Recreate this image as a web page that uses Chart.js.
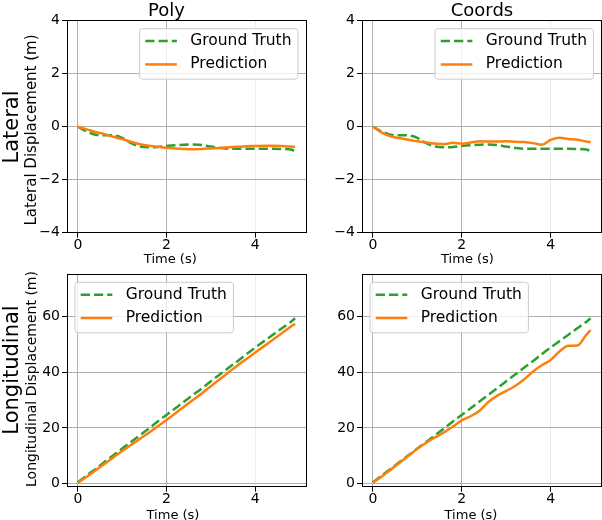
<!DOCTYPE html>
<html>
<head>
<meta charset="utf-8">
<script src="https://cdn.jsdelivr.net/npm/chart.js@4.4.1/dist/chart.umd.min.js"></script>
<style>
  body { margin: 0; background: #fff; }
  #fig { position: relative; width: 602px; height: 520px; overflow: hidden; font-family: "DejaVu Sans", sans-serif; }
  #fig canvas { position: absolute; }
  .lbl { position: absolute; line-height: 1; white-space: nowrap; color: #000; transform: translate(-50%, -50%); }
  .rot { transform: translate(-50%, -50%) rotate(-90deg); }
</style>
</head>
<body>
<div id="fig">
  <canvas id="latPolyChart" width="310" height="270" style="left:0;top:0"></canvas>
  <canvas id="latCoordsChart" width="302" height="270" style="left:300px;top:0"></canvas>
  <canvas id="lonPolyChart" width="310" height="260" style="left:0;top:260px"></canvas>
  <canvas id="lonCoordsChart" width="302" height="260" style="left:300px;top:260px"></canvas>

  <div class="lbl" style="left:166.5px;top:9.8px;font-size:18px">Poly</div>
  <div class="lbl" style="left:482px;top:9.8px;font-size:18px">Coords</div>
  <div class="lbl rot" style="left:11.2px;top:126.5px;font-size:21px">Lateral</div>
  <div class="lbl rot" style="left:11.2px;top:370px;font-size:21px">Longitudinal</div>
  <div class="lbl rot" style="left:30.8px;top:130px;font-size:15px">Lateral Displacement (m)</div>
  <div class="lbl rot" style="left:30.7px;top:379px;font-size:14px">Longitudinal Displacement (m)</div>
  <div class="lbl" style="left:170.3px;top:258.3px;font-size:13px">Time (s)</div>
  <div class="lbl" style="left:467.5px;top:258.3px;font-size:13px">Time (s)</div>
  <div class="lbl" style="left:173px;top:513.5px;font-size:13px">Time (s)</div>
  <div class="lbl" style="left:471px;top:513.5px;font-size:13px">Time (s)</div>
</div>
<script>
const time = [0, 0.2, 0.4, 0.6, 0.8, 1.0, 1.2, 1.4, 1.6, 1.8, 2.0, 2.2, 2.4, 2.6, 2.8, 3.0, 3.2, 3.4, 3.6, 3.8, 4.0, 4.2, 4.4, 4.6, 4.8, 4.9];

const latTruth  = [0, -0.18, -0.30, -0.32, -0.33, -0.42, -0.62, -0.75, -0.78, -0.77, -0.73, -0.70, -0.68, -0.67, -0.69, -0.75, -0.80, -0.83, -0.83, -0.83, -0.83, -0.83, -0.83, -0.84, -0.86, -0.92];
const latPoly   = [0, -0.10, -0.20, -0.28, -0.38, -0.47, -0.57, -0.66, -0.72, -0.76, -0.79, -0.82, -0.84, -0.85, -0.84, -0.82, -0.80, -0.78, -0.76, -0.74, -0.73, -0.72, -0.72, -0.73, -0.75, -0.76];
const latCoords = [0, -0.22, -0.36, -0.43, -0.49, -0.55, -0.60, -0.63, -0.66, -0.61, -0.64, -0.60, -0.55, -0.56, -0.56, -0.55, -0.57, -0.58, -0.62, -0.68, -0.50, -0.42, -0.46, -0.49, -0.56, -0.58];

const lonTruth  = [0.5, 2.9, 5.3, 7.8, 10.2, 12.6, 15.0, 17.4, 19.8, 22.3, 24.7, 27.1, 29.5, 31.9, 34.3, 36.8, 39.2, 41.6, 44.0, 46.5, 48.9, 51.2, 53.5, 55.8, 58.1, 59.4];
const lonPoly   = [0.3, 2.5, 4.8, 7.1, 9.4, 11.7, 13.9, 16.1, 18.3, 20.6, 22.9, 25.3, 27.7, 30.1, 32.5, 35.0, 37.5, 40.0, 42.4, 44.8, 47.1, 49.4, 51.7, 54.0, 56.4, 57.4];
const lonCoords = [0.3, 2.6, 5.0, 7.5, 10.0, 12.5, 14.7, 16.6, 18.4, 20.5, 22.7, 24.2, 26.2, 29.3, 31.6, 33.3, 35.1, 37.4, 40.2, 42.5, 44.4, 47.5, 49.5, 49.6, 53.4, 55.2];

const timeTicks = [0, 2, 4];
const latTicks = [-4, -2, 0, 2, 4];
const lonTicks = [0, 20, 40, 60];

Chart.defaults.font.family = '"DejaVu Sans", sans-serif';
Chart.defaults.font.size = 14;
Chart.defaults.color = '#000';

const align = p => Math.round(p - 0.5) + 0.5;

// black box around the axes, like matplotlib spines
const framePlugin = {
  id: 'frame',
  afterDatasetsDraw(chart) {
    const {ctx, chartArea: a} = chart;
    ctx.save();
    ctx.strokeStyle = '#000';
    ctx.lineWidth = 1;
    const l = align(a.left), r = align(a.right), t = align(a.top), b = align(a.bottom);
    ctx.strokeRect(l, t, r - l, b - t);
    ctx.restore();
  }
};

// legend box drawn inside the plot area
const boxLegend = {
  id: 'boxLegend',
  afterDatasetsDraw(chart, args, opts) {
    const {ctx, chartArea: a} = chart;
    const sets = chart.data.datasets;
    ctx.save();
    ctx.font = '15.5px "DejaVu Sans"';
    const textW = Math.max(...sets.map(d => ctx.measureText(d.label).width));
    const w = 50.7 + textW + 6.5, h = 50.5;
    const x = opts.side === 'left' ? a.left + 8 : a.right - 8 - w;
    const y = a.top + 8;
    ctx.beginPath();
    ctx.roundRect(x, y, w, h, 3);
    ctx.fillStyle = 'rgba(255,255,255,0.8)';
    ctx.fill();
    ctx.strokeStyle = '#cccccc';
    ctx.lineWidth = 1;
    ctx.stroke();
    sets.forEach((d, i) => {
      const ry = y + 12.4 + i * 23.3;
      ctx.beginPath();
      ctx.setLineDash(d.borderDash || []);
      ctx.strokeStyle = d.borderColor;
      ctx.lineWidth = d.borderWidth;
      ctx.moveTo(x + 5.7, ry);
      ctx.lineTo(x + 37.3, ry);
      ctx.stroke();
      ctx.setLineDash([]);
      ctx.fillStyle = '#000';
      ctx.textBaseline = 'middle';
      ctx.fillText(d.label, x + 50.7, ry);
    });
    ctx.restore();
  }
};

const minus = v => String(v).replace('-', '\u2212');

function panel(id, area, yMin, yMax, yTicks, truth, pred, side) {
  const canvas = document.getElementById(id);
  const pts = arr => time.map((t, i) => ({x: t, y: arr[i]}));
  new Chart(canvas, {
    type: 'line',
    data: {
      datasets: [
        {
          label: 'Ground Truth',
          data: pts(truth),
          borderColor: '#2ca02c',
          borderWidth: 2.5,
          borderDash: [9.25, 4],
          order: 2,
        },
        {
          label: 'Prediction',
          data: pts(pred),
          borderColor: '#ff7f0e',
          borderWidth: 2.5,
          order: 1,
        },
      ],
    },
    options: {
      responsive: false,
      animation: false,
      elements: {
        point: { radius: 0 },
        line: { fill: false, cubicInterpolationMode: 'monotone', borderCapStyle: 'butt' },
      },
      layout: { padding: { left: 0, top: area.t, right: canvas.width - area.r, bottom: 0 } },
      scales: {
        x: {
          type: 'linear',
          min: -0.245,
          max: 5.145,
          afterFit: s => { s.height = canvas.height - area.b; },
          afterBuildTicks: s => { s.ticks = timeTicks.map(v => ({value: v})); },
          grid: {
            color: c => (c.tick && c.tick.value === 4 ? '#ececec' : '#b0b0b0'),
            tickColor: '#000',
            tickLength: 5,
            lineWidth: 1,
          },
          border: { display: false },
          ticks: { padding: -1, autoSkip: false, maxRotation: 0, callback: minus },
        },
        y: {
          min: yMin,
          max: yMax,
          afterFit: s => { s.width = area.l; },
          afterBuildTicks: s => { s.ticks = yTicks.map(v => ({value: v})); },
          grid: { color: '#b0b0b0', tickColor: '#000', tickLength: 5, lineWidth: 1 },
          border: { display: false },
          ticks: { padding: 2, autoSkip: false, callback: minus },
        },
      },
      plugins: {
        legend: { display: false },
        tooltip: { enabled: false },
        boxLegend: { side },
      },
    },
    plugins: [framePlugin, boxLegend],
  });
}

panel('latPolyChart',   {l: 67, t: 20.7, r: 306,   b: 232.7}, -4, 4, latTicks, latTruth, latPoly, 'right');
panel('latCoordsChart', {l: 62, t: 20.7, r: 301.5, b: 232.7}, -4, 4, latTicks, latTruth, latCoords, 'right');
panel('lonPolyChart',   {l: 67, t: 14.3, r: 306,   b: 226.7}, -1.1, 75.2, lonTicks, lonTruth, lonPoly, 'left');
panel('lonCoordsChart', {l: 62, t: 14.3, r: 301.5, b: 226.7}, -1.1, 75.2, lonTicks, lonTruth, lonCoords, 'left');
</script>
</body>
</html>
